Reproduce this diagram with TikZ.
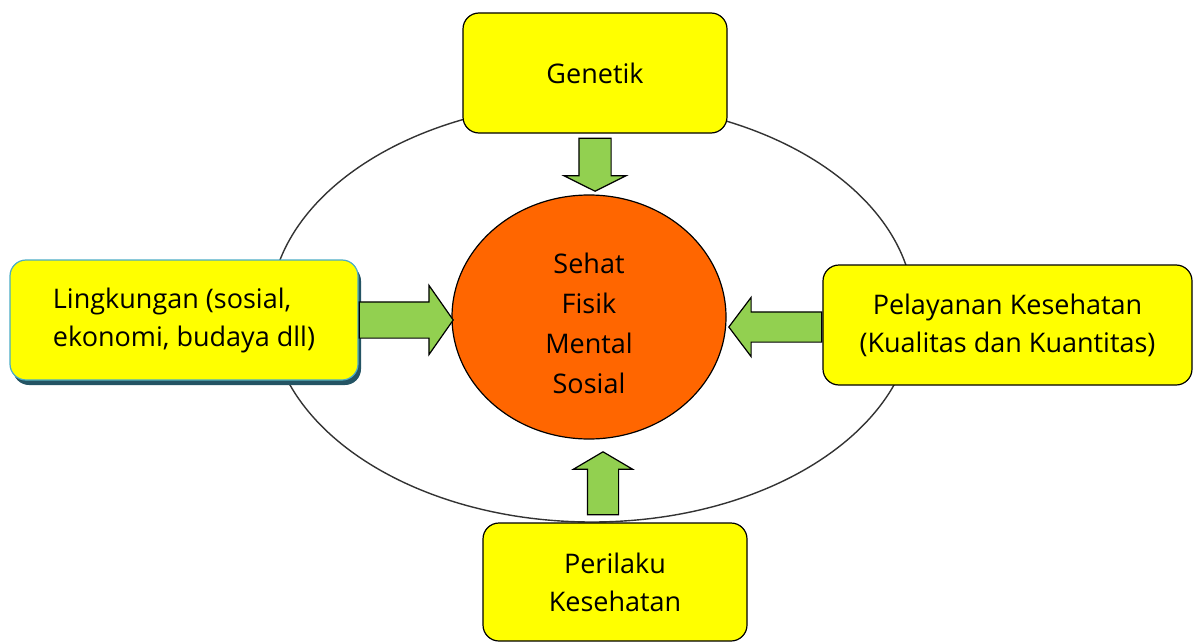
\documentclass[tikz,border=0pt]{standalone}
\usepackage{fontspec}
\setmainfont{Open Sans}
\usetikzlibrary{shapes.geometric,shapes.arrows,shadows}

\definecolor{boxyellow}{RGB}{255,255,0}
\definecolor{coreorange}{RGB}{255,102,0}
\definecolor{arrowgreen}{RGB}{146,208,80}
\definecolor{tealedge}{RGB}{75,172,198}
\definecolor{tealshadow}{RGB}{36,84,100}

\tikzset{
    factor/.style={draw, fill=boxyellow, rounded corners=8pt, line width=0.6pt,
        inner sep=0pt, minimum height=60pt, align=center},
    blockarrow/.style={single arrow, draw, fill=arrowgreen, line width=0.6pt,
        anchor=tail, minimum width=0pt}
}

\begin{document}
\begin{tikzpicture}[x=0.5pt, y=-0.5pt, font=\fontsize{13.5}{19}\selectfont]
    \useasboundingbox (0,0) rectangle (1193,642);

    % outer ring
    \node[ellipse, draw=black!80, line width=0.7pt, minimum width=322pt, minimum height=210pt, inner sep=0pt] (ring) at (592,312) {};

    % Genetik
    \node[factor, minimum width=132pt] (gen) at (595,73) {Genetik};

    % Lingkungan
    \node[factor, draw=tealedge, align=left, minimum width=174pt,
        general shadow={fill=tealshadow, shadow xshift=1.5pt, shadow yshift=-2.5pt}]
        (lin) at (184,320) {Lingkungan (sosial,\\ekonomi, budaya dll)};

    % Pelayanan Kesehatan
    \node[factor, minimum width=184.5pt] (pel) at (1007.5,325) {Pelayanan Kesehatan\\(Kualitas dan Kuantitas)};

    % Perilaku
    \node[factor, minimum width=132pt, minimum height=59pt] (per) at (615,582) {Perilaku\\Kesehatan};

    % Sehat
    \node[ellipse, draw, fill=coreorange, line width=0.6pt, inner sep=0pt, minimum width=137pt, minimum height=122pt,
        align=center, font=\fontsize{13.5}{20}\selectfont] (core) at (589,317) {};
    \node[align=center, font=\fontsize{13.5}{20}\selectfont] (coretext) at (589,323) {Sehat\\Fisik\\Mental\\Sosial};

    % Arrows
    \node[blockarrow, shape border rotate=270, minimum height=26.5pt, inner xsep=7.75pt, inner ysep=0pt,
        single arrow head extend=7.5pt, single arrow tip angle=127] (agen) at ([yshift=-2pt]gen.south) {};
    \node[blockarrow, minimum height=47pt, inner xsep=0pt, inner ysep=8.75pt,
        single arrow head extend=8.25pt, single arrow tip angle=110] (alin) at (lin.east) {};
    \node[blockarrow, shape border rotate=180, minimum height=46.5pt, inner xsep=0pt, inner ysep=7.25pt,
        single arrow head extend=7.25pt, single arrow tip angle=106] (apel) at ([yshift=-1pt]pel.west) {};
    \node[blockarrow, shape border rotate=90, minimum height=31.5pt, inner xsep=7.5pt, inner ysep=0pt,
        single arrow head extend=7pt, single arrow tip angle=119] (aper) at ([xshift=-6pt, yshift=3.5pt]per.north) {};
\end{tikzpicture}
\end{document}
